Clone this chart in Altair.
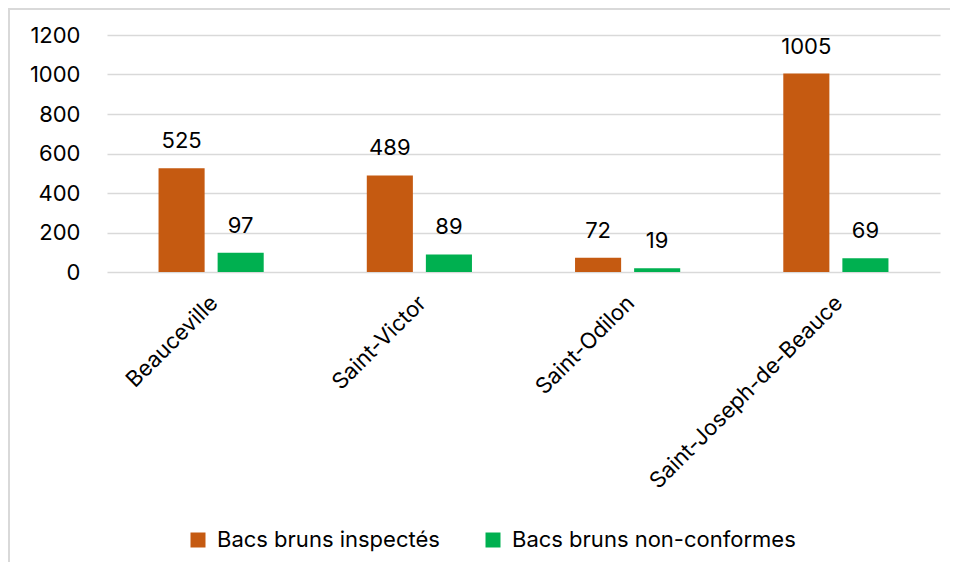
import altair as alt
import pandas as pd

categories = ["Beauceville", "Saint-Victor", "Saint-Odilon", "Saint-Joseph-de-Beauce"]
series_names = ["Bacs bruns inspectés", "Bacs bruns non-conformes"]
inspectes = [525, 489, 72, 1005]
non_conformes = [97, 89, 19, 69]
colors = ["#C55A11", "#00B050"]
y_ticks = [0, 200, 400, 600, 800, 1000, 1200]

rows = []
for c, a, b in zip(categories, inspectes, non_conformes):
    rows.append({"ville": c, "serie": series_names[0], "valeur": a})
    rows.append({"ville": c, "serie": series_names[1], "valeur": b})
df = pd.DataFrame(rows)

FONT = "Inter"
FS = 22

x_enc = alt.X("ville:N", sort=categories, title=None,
              scale=alt.Scale(paddingInner=0.495, paddingOuter=0.2475),
              axis=alt.Axis(labelAngle=-45, labelFontSize=FS, labelFont=FONT,
                            labelColor="#000000", ticks=False, domain=False,
                            labelPadding=20, labelOffset=-4, labelLimit=400))
xo_enc = alt.XOffset("serie:N", sort=series_names,
                     scale=alt.Scale(paddingInner=0.22, paddingOuter=0))
y_enc = alt.Y("valeur:Q", title=None,
              scale=alt.Scale(domain=[0, 1200], nice=False),
              axis=alt.Axis(values=y_ticks, format="d", labelOverlap=False,
                            labelFontSize=FS, labelFont=FONT,
                            labelColor="#000000", ticks=False, domain=False,
                            labelPadding=27, gridColor="#D9D9D9", gridWidth=1.5))
color_enc = alt.Color("serie:N", sort=series_names, title=None,
                      scale=alt.Scale(domain=series_names, range=colors),
                      legend=alt.Legend(orient="none", direction="horizontal",
                                        legendX=80, legendY=494,
                                        symbolType="square", symbolSize=225,
                                        symbolStrokeWidth=0,
                                        labelFontSize=FS, labelFont=FONT,
                                        labelColor="#000000", labelOffset=8,
                                        columnPadding=42, labelLimit=400))

base = alt.Chart(df).encode(x=x_enc, xOffset=xo_enc, y=y_enc)

bars = base.mark_bar(clip=False).encode(color=color_enc)
labels = base.mark_text(baseline="alphabetic", dy=-20, fontSize=FS, font=FONT,
                        color="#000000").encode(text=alt.Text("valeur:Q"))

border_top = alt.Chart(df).mark_rule(color="#D9D9D9", strokeWidth=2, clip=False).encode(
    x=alt.value(-99), x2=alt.value(860), y=alt.value(-26))
border_left = alt.Chart(df).mark_rule(color="#D9D9D9", strokeWidth=2, clip=False).encode(
    x=alt.value(-98), y=alt.value(-27), y2=alt.value(560))

chart = alt.layer(bars, labels, border_top, border_left).properties(
    width=833, height=237,
    autosize=alt.AutoSizeParams(type="none"),
    padding={"left": 99, "top": 27, "right": 10, "bottom": 290},
).configure_view(stroke=None)

chart.save("out.html", embed_options={"renderer": "svg", "actions": False})
